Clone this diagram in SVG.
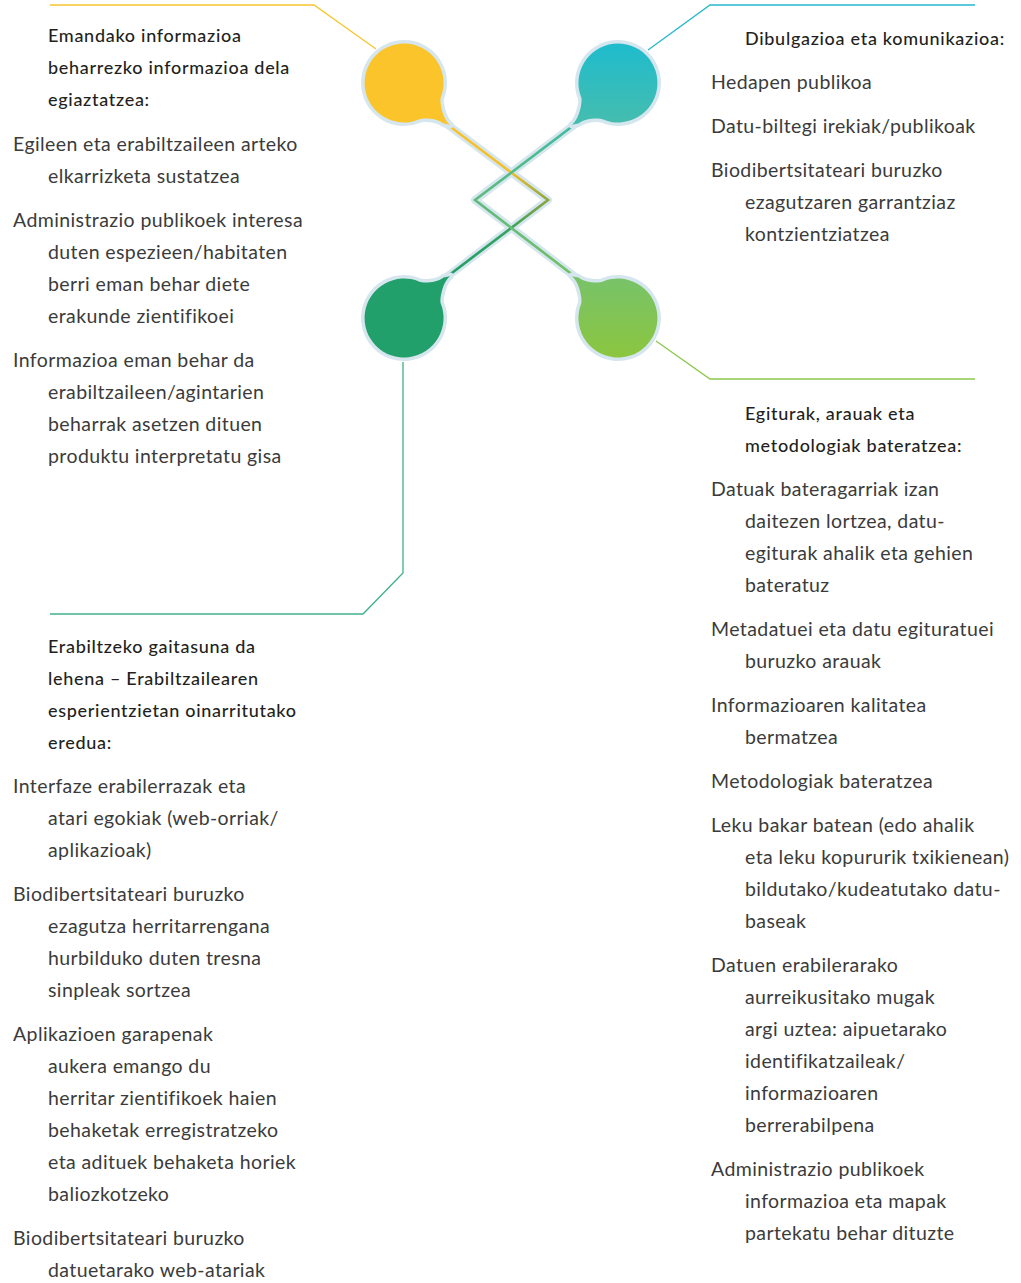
<svg xmlns="http://www.w3.org/2000/svg" width="1021" height="1283" viewBox="0 0 1021 1283">
  <defs>
    <style>
      .body { font-family: Lato, "Liberation Sans", sans-serif; font-size: 19.5px; letter-spacing: 0.4px; fill: #3b3b3b; }
      .head { font-family: Lato, "Liberation Sans", sans-serif; font-size: 18px; letter-spacing: 0.7px; font-weight: 500; fill: #231f20; }
      .halo { fill: none; stroke: #d5e6ee; stroke-width: 8; stroke-linejoin: round; stroke-linecap: round; }
      .bubble-halo { stroke: #d5e6ee; stroke-width: 7; stroke-linejoin: round; }
      .leader { fill: none; stroke-width: 1.3; }
    </style>
    <!-- bubble: circle with a short filleted neck along local +x; the link runs at y=+7.2 -->
    <path id="bubble" d="M62,5.8 C52,5.8 39.2,-7 38.2,-10.2 A39.5 39.5 0 1 0 34.2,19.75 C35.7,17.1 46,8.6 56,8.6 Z"/>
    <!-- same bubble mirrored, link at y=-7.2 -->
    <path id="bubble-m" d="M62,-5.8 C52,-5.8 39.2,7 38.2,10.2 A39.5 39.5 0 1 1 34.2,-19.75 C35.7,-17.1 46,-8.6 56,-8.6 Z"/>
    <!-- vertical fills, counter-rotated to stay upright inside the rotated bubbles -->
    <linearGradient id="g-teal" gradientUnits="userSpaceOnUse" x1="0" y1="-40" x2="0" y2="40" gradientTransform="rotate(-143.13)">
      <stop offset="0" stop-color="#1ebccd"/>
      <stop offset="1" stop-color="#45bdaf"/>
    </linearGradient>
    <linearGradient id="g-lime" gradientUnits="userSpaceOnUse" x1="0" y1="-40" x2="0" y2="40" gradientTransform="rotate(-216.87)">
      <stop offset="0" stop-color="#78c369"/>
      <stop offset="1" stop-color="#8cc63f"/>
    </linearGradient>
    <linearGradient id="g-line-a" gradientUnits="userSpaceOnUse" x1="0" y1="118" x2="0" y2="282">
      <stop offset="0" stop-color="#fbc32a"/>
      <stop offset="0.33" stop-color="#f2bf2c"/>
      <stop offset="0.5" stop-color="#8ea641"/>
      <stop offset="0.68" stop-color="#36a35e"/>
      <stop offset="1" stop-color="#1f9d68"/>
    </linearGradient>
    <linearGradient id="g-line-b" gradientUnits="userSpaceOnUse" x1="0" y1="118" x2="0" y2="282">
      <stop offset="0" stop-color="#3fbba3"/>
      <stop offset="0.5" stop-color="#5fbb7c"/>
      <stop offset="1" stop-color="#76c162"/>
    </linearGradient>
  </defs>

  <rect width="1021" height="1283" fill="#ffffff"/>

  <!-- connectors: crossing links and leader lines -->
  <g id="connectors">
    <path class="halo" d="M439.7,118.8 L548,200 L439.7,282.2"/>
    <path class="halo" d="M582.3,118.8 L475,200 L582.3,282.2"/>
    <path d="M439.7,118.8 L548,200 L439.7,282.2" fill="none" stroke="url(#g-line-a)" stroke-width="2.6" stroke-linejoin="miter"/>
    <path d="M582.3,118.8 L475,200 L582.3,282.2" fill="none" stroke="url(#g-line-b)" stroke-width="2.6" stroke-linejoin="miter"/>

    <path class="leader" stroke="#f8c52e" d="M50,5 H314 L376,49"/>
    <path class="leader" stroke="#25b9cb" d="M648,50 L710,5 H975"/>
    <path class="leader" stroke="#8cc84b" d="M656,341 L710,379 H975"/>
    <path class="leader" stroke="#3fb186" d="M403,362 V573 L363,614 H50"/>
  </g>

  <!-- yellow node -->
  <g id="node-verify">
    <g transform="translate(404,83) rotate(36.87)">
      <use href="#bubble" class="bubble-halo" fill="#d5e6ee"/>
      <use href="#bubble" fill="#fbc42b"/>
    </g>
    <text class="head" x="48" y="42">Emandako informazioa</text>
    <text class="head" x="48" y="74">beharrezko informazioa dela</text>
    <text class="head" x="48" y="106">egiaztatzea:</text>
    <text class="body" x="13" y="150.5">Egileen eta erabiltzaileen arteko</text>
    <text class="body" x="48" y="182.5">elkarrizketa sustatzea</text>
    <text class="body" x="13" y="226.5">Administrazio publikoek interesa</text>
    <text class="body" x="48" y="258.5">duten espezieen/habitaten</text>
    <text class="body" x="48" y="290.5">berri eman behar diete</text>
    <text class="body" x="48" y="322.5">erakunde zientifikoei</text>
    <text class="body" x="13" y="366.5">Informazioa eman behar da</text>
    <text class="body" x="48" y="398.5">erabiltzaileen/agintarien</text>
    <text class="body" x="48" y="430.5">beharrak asetzen dituen</text>
    <text class="body" x="48" y="462.5">produktu interpretatu gisa</text>
  </g>

  <!-- teal node -->
  <g id="node-outreach">
    <g transform="translate(618,83) rotate(143.13)">
      <use href="#bubble-m" class="bubble-halo" fill="#d5e6ee"/>
      <use href="#bubble-m" fill="url(#g-teal)"/>
    </g>
    <text class="head" x="745" y="45">Dibulgazioa eta komunikazioa:</text>
    <text class="body" x="711" y="89">Hedapen publikoa</text>
    <text class="body" x="711" y="133">Datu-biltegi irekiak/publikoak</text>
    <text class="body" x="711" y="177">Biodibertsitateari buruzko</text>
    <text class="body" x="745" y="209">ezagutzaren garrantziaz</text>
    <text class="body" x="745" y="241">kontzientziatzea</text>
  </g>

  <!-- light green node -->
  <g id="node-standards">
    <g transform="translate(618,318) rotate(216.87)">
      <use href="#bubble" class="bubble-halo" fill="#d5e6ee"/>
      <use href="#bubble" fill="url(#g-lime)"/>
    </g>
    <text class="head" x="745" y="420">Egiturak, arauak eta</text>
    <text class="head" x="745" y="452">metodologiak bateratzea:</text>
    <text class="body" x="711" y="496">Datuak bateragarriak izan</text>
    <text class="body" x="745" y="528">daitezen lortzea, datu-</text>
    <text class="body" x="745" y="560">egiturak ahalik eta gehien</text>
    <text class="body" x="745" y="592">bateratuz</text>
    <text class="body" x="711" y="636">Metadatuei eta datu egituratuei</text>
    <text class="body" x="745" y="668">buruzko arauak</text>
    <text class="body" x="711" y="712">Informazioaren kalitatea</text>
    <text class="body" x="745" y="744">bermatzea</text>
    <text class="body" x="711" y="788">Metodologiak bateratzea</text>
    <text class="body" x="711" y="832">Leku bakar batean (edo ahalik</text>
    <text class="body" x="745" y="864">eta leku kopururik txikienean)</text>
    <text class="body" x="745" y="896">bildutako/kudeatutako datu-</text>
    <text class="body" x="745" y="928">baseak</text>
    <text class="body" x="711" y="972">Datuen erabilerarako</text>
    <text class="body" x="745" y="1004">aurreikusitako mugak</text>
    <text class="body" x="745" y="1036">argi uztea: aipuetarako</text>
    <text class="body" x="745" y="1068">identifikatzaileak/</text>
    <text class="body" x="745" y="1100">informazioaren</text>
    <text class="body" x="745" y="1132">berrerabilpena</text>
    <text class="body" x="711" y="1176">Administrazio publikoek</text>
    <text class="body" x="745" y="1208">informazioa eta mapak</text>
    <text class="body" x="745" y="1240">partekatu behar dituzte</text>
  </g>

  <!-- dark green node -->
  <g id="node-usability">
    <g transform="translate(404,318) rotate(-36.87)">
      <use href="#bubble-m" class="bubble-halo" fill="#d5e6ee"/>
      <use href="#bubble-m" fill="#21a06b"/>
    </g>
    <text class="head" x="48" y="653">Erabiltzeko gaitasuna da</text>
    <text class="head" x="48" y="685">lehena – Erabiltzailearen</text>
    <text class="head" x="48" y="717">esperientzietan oinarritutako</text>
    <text class="head" x="48" y="749">eredua:</text>
    <text class="body" x="13" y="793">Interfaze erabilerrazak eta</text>
    <text class="body" x="48" y="825">atari egokiak (web-orriak/</text>
    <text class="body" x="48" y="857">aplikazioak)</text>
    <text class="body" x="13" y="901">Biodibertsitateari buruzko</text>
    <text class="body" x="48" y="933">ezagutza herritarrengana</text>
    <text class="body" x="48" y="965">hurbilduko duten tresna</text>
    <text class="body" x="48" y="997">sinpleak sortzea</text>
    <text class="body" x="13" y="1041">Aplikazioen garapenak</text>
    <text class="body" x="48" y="1073">aukera emango du</text>
    <text class="body" x="48" y="1105">herritar zientifikoek haien</text>
    <text class="body" x="48" y="1137">behaketak erregistratzeko</text>
    <text class="body" x="48" y="1169">eta adituek behaketa horiek</text>
    <text class="body" x="48" y="1201">baliozkotzeko</text>
    <text class="body" x="13" y="1245">Biodibertsitateari buruzko</text>
    <text class="body" x="48" y="1277">datuetarako web-atariak</text>
  </g>
</svg>
